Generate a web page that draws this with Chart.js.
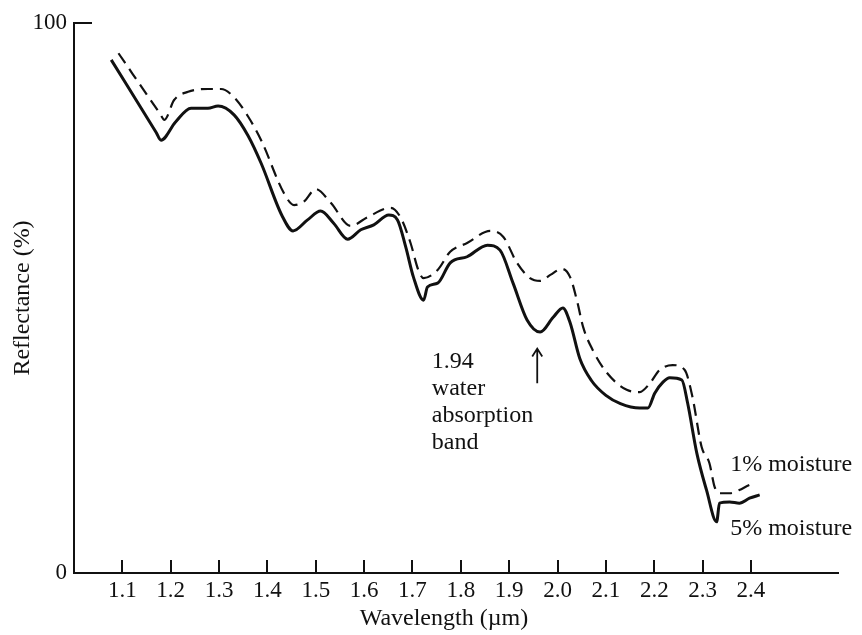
<!DOCTYPE html>
<html>
<head>
<meta charset="utf-8">
<script src="https://cdn.jsdelivr.net/npm/chart.js@4/dist/chart.umd.min.js"></script>
<style>
    html, body { margin: 0; padding: 0; background: #fff; }
    #wrap { width: 862px; height: 635px; }
</style>
</head>
<body>
<div id="wrap"><canvas id="spectrum-chart" width="862" height="635"></canvas></div>
<script>
/* Soil reflectance vs wavelength, 1% and 5% moisture */

var X_TICKS = [1.1, 1.2, 1.3, 1.4, 1.5, 1.6, 1.7, 1.8, 1.9, 2.0, 2.1, 2.2, 2.3, 2.4];
var Y_TICKS = [0, 100];

// 5% moisture (solid)
var WET_X = [1.077, 1.17, 1.18, 1.21, 1.242, 1.277, 1.298, 1.331, 1.36, 1.387, 1.43, 1.453, 1.483, 1.51, 1.537,
             1.566, 1.593, 1.62, 1.651, 1.669, 1.686, 1.702, 1.723, 1.731, 1.752, 1.778, 1.813, 1.855, 1.881, 1.908,
             1.937, 1.964, 1.991, 2.011, 2.026, 2.046, 2.07, 2.1, 2.13, 2.17, 2.187, 2.201, 2.218, 2.232, 2.257,
             2.269, 2.288, 2.308, 2.329, 2.335, 2.356, 2.376, 2.397, 2.418];
var WET_Y = [93.3, 80.1, 78.7, 82, 84.5, 84.5, 84.9, 83.3, 79.5, 74.5, 65, 62.2, 64.2, 65.8, 63.6,
             60.7, 62.4, 63.3, 65.1, 64.2, 59.3, 53.8, 49.6, 52, 52.7, 56.4, 57.5, 59.6, 58.7, 52.7,
             46, 43.8, 46.5, 48.2, 45.5, 39, 35, 32.3, 30.8, 30, 30, 32.7, 34.7, 35.5, 35.1,
             30.9, 21.8, 15.1, 9.3, 12.7, 12.9, 12.7, 13.6, 14.2];

// 1% moisture (dashed)
var DRY_X = [1.092, 1.178, 1.187, 1.207, 1.236, 1.277, 1.304, 1.331, 1.36, 1.387, 1.434, 1.455, 1.475, 1.5, 1.531,
             1.572, 1.607, 1.655, 1.675, 1.696, 1.712, 1.723, 1.752, 1.778, 1.813, 1.861, 1.888, 1.916, 1.943,
             1.964, 1.985, 2.009, 2.026, 2.04, 2.053, 2.073, 2.102, 2.143, 2.17, 2.191, 2.211, 2.238, 2.263,
             2.279, 2.298, 2.314, 2.325, 2.335, 2.356, 2.376, 2.397, 2.407];
var DRY_Y = [94.5, 83.5, 82.4, 86, 87.5, 88, 88, 86.5, 83, 78.7, 69.1, 66.9, 67.5, 69.8, 67.3,
             63.1, 64.7, 66.4, 64.7, 60, 55.1, 53.6, 55.1, 58.4, 60, 62.2, 61.1, 56.4, 53.6,
             53.1, 54.2, 55.3, 53.8, 49.6, 44.7, 40.5, 36.4, 33.3, 32.9, 34.5, 36.9, 37.8, 36.9,
             32, 22.9, 20, 15.6, 14.5, 14.5, 15.1, 16, 16.2];

var FONT = '"Liberation Serif", "Times New Roman", serif';
var INK = '#111';

function toPoints(xs, ys) {
    return xs.map(function(x, i) { return { x: x, y: ys[i] }; });
}

// inward tick marks, the 100 cap, x title and the text notes
var notesPlugin = {
    id: 'notes',
    afterDraw: function(chart) {
        var ctx = chart.ctx;
        var xs = chart.scales.x;
        var ys = chart.scales.y;
        var bottom = chart.chartArea.bottom;

        ctx.save();
        ctx.strokeStyle = INK;
        ctx.lineWidth = 2;
        ctx.beginPath();
        X_TICKS.forEach(function(v) {
            var px = Math.round(xs.getPixelForValue(v));
            ctx.moveTo(px, bottom);
            ctx.lineTo(px, bottom - 13);
        });
        var top = ys.getPixelForValue(100);
        ctx.moveTo(chart.chartArea.left, top);
        ctx.lineTo(chart.chartArea.left + 18, top);
        ctx.stroke();

        // arrow at the 1.94 band
        var ax = xs.getPixelForValue(1.958);
        var a0 = ys.getPixelForValue(34.5);
        var a1 = ys.getPixelForValue(40.8);
        ctx.lineWidth = 1.8;
        ctx.beginPath();
        ctx.moveTo(ax, a0);
        ctx.lineTo(ax, a1);
        ctx.moveTo(ax - 5, a1 + 8);
        ctx.lineTo(ax, a1);
        ctx.lineTo(ax + 5, a1 + 8);
        ctx.stroke();

        ctx.fillStyle = INK;
        ctx.font = '24px ' + FONT;
        ctx.textAlign = 'center';
        ctx.textBaseline = 'middle';
        ctx.fillText('Wavelength (µm)', xs.getPixelForValue(1.765), 619);

        ctx.textAlign = 'left';
        var tx = xs.getPixelForValue(1.74);
        ['1.94', 'water', 'absorption', 'band'].forEach(function(t, i) {
            ctx.fillText(t, tx, ys.getPixelForValue(38.5) + i * 27);
        });

        var mx = xs.getPixelForValue(2.357);
        ctx.fillText('1% moisture', mx, ys.getPixelForValue(19.6));
        ctx.fillText('5% moisture', mx, ys.getPixelForValue(8.0));
        ctx.restore();
    }
};

function initSpectrumChart() {
    var el = document.getElementById('spectrum-chart');
    if (!el) return;

    new Chart(el, {
        type: 'line',
        data: {
            datasets: [
                {
                    label: '1% moisture',
                    data: toPoints(DRY_X, DRY_Y),
                    borderColor: INK, borderWidth: 2.2, borderDash: [12, 7],
                    pointRadius: 0, cubicInterpolationMode: 'monotone', fill: false
                },
                {
                    label: '5% moisture',
                    data: toPoints(WET_X, WET_Y),
                    borderColor: INK, borderWidth: 3,
                    pointRadius: 0, cubicInterpolationMode: 'monotone', fill: false
                }
            ]
        },
        options: {
            responsive: false, animation: false, devicePixelRatio: 1,
            layout: { padding: { top: 23, right: 24, left: 0, bottom: 0 } },
            plugins: { legend: { display: false }, tooltip: { enabled: false } },
            scales: {
                x: {
                    type: 'linear', min: 1.0, max: 2.58,
                    afterBuildTicks: function(s) { s.ticks = X_TICKS.map(function(v) { return { value: v }; }); },
                    afterFit: function(s) { s.height = 62; },
                    grid: { display: false, drawTicks: false },
                    border: { display: true, color: INK, width: 2 },
                    ticks: {
                        color: INK, padding: 4, maxRotation: 0, autoSkip: false,
                        font: { family: FONT, size: 23 },
                        callback: function(v) { return v.toFixed(1); }
                    },
                    title: { display: false }
                },
                y: {
                    min: 0, max: 100,
                    afterBuildTicks: function(s) { s.ticks = Y_TICKS.map(function(v) { return { value: v }; }); },
                    afterFit: function(s) { s.width = 74; },
                    grid: { display: false, drawTicks: false },
                    border: { display: true, color: INK, width: 2 },
                    ticks: { color: INK, padding: 7, font: { family: FONT, size: 23 } },
                    title: {
                        display: true, text: 'Reflectance (%)', color: INK,
                        font: { family: FONT, size: 24 }, padding: { top: 8, bottom: 0 }
                    }
                }
            }
        },
        plugins: [notesPlugin]
    });
}

initSpectrumChart();
</script>
</body>
</html>
